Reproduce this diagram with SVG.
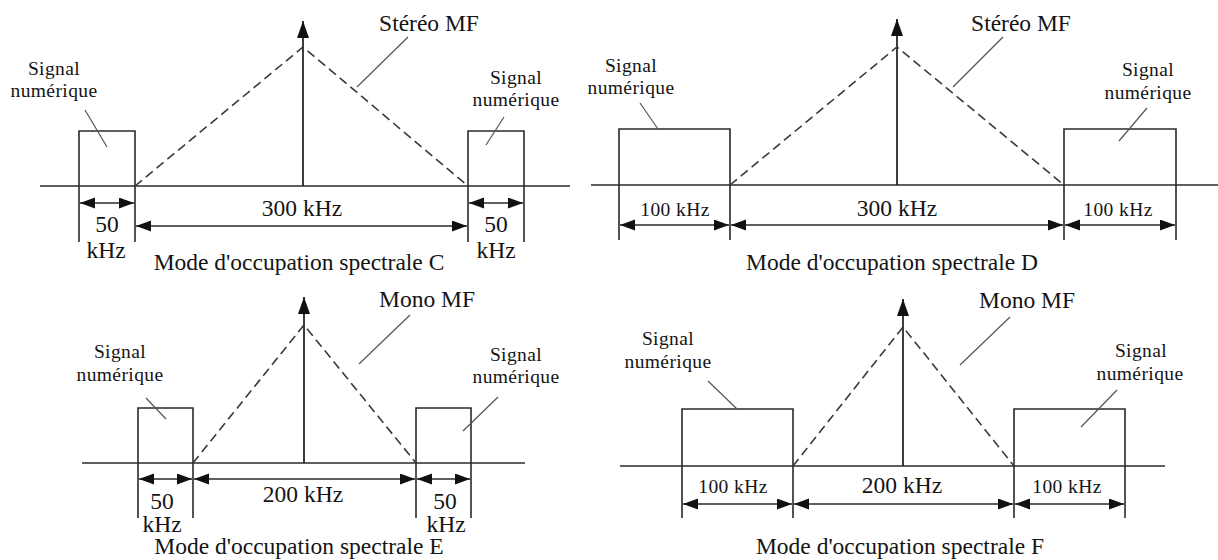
<svg xmlns="http://www.w3.org/2000/svg" width="1218" height="560" viewBox="0 0 1218 560">
<defs>
<marker id="dim" markerUnits="userSpaceOnUse" markerWidth="16" markerHeight="12" refX="15" refY="5.5" orient="auto-start-reverse"><path d="M0,0 L15,5.5 L0,11 z" fill="#111"/></marker>
<marker id="up" markerUnits="userSpaceOnUse" markerWidth="18" markerHeight="14" refX="17" refY="6" orient="auto"><path d="M0,0 L17,6 L0,12 z" fill="#111"/></marker>
</defs>
<style>
text{font-family:"Liberation Serif","Times New Roman",serif;fill:#141414;text-anchor:middle}
.big{font-size:23.5px}
.sm{font-size:19.5px;letter-spacing:0.4px}
.ax{stroke:#2a2a2a;stroke-width:1.6;fill:none}
.box{stroke:#2a2a2a;stroke-width:1.6;fill:none}
.carrier{stroke:#1a1a1a;stroke-width:1.7;marker-end:url(#up)}
.dash{stroke:#3a3a3a;stroke-width:1.6;stroke-dasharray:9 5;fill:none}
.lead{stroke:#555;stroke-width:1.2}
.dimline{stroke:#2a2a2a;stroke-width:1.5;marker-start:url(#dim);marker-end:url(#dim)}
</style>
<rect width="1218" height="560" fill="#fff"/>

<!-- Panel C -->
<g id="panelC">
<g id="C-axis"><line class="ax" x1="40" y1="186" x2="570" y2="186"/></g>
<g id="C-box-left"><path class="box" d="M79,242 V131 H135 V242"/></g>
<g id="C-box-right"><path class="box" d="M468,242 V131 H524 V242"/></g>
<g id="C-carrier"><line class="carrier" x1="303" y1="186" x2="303" y2="21"/><polyline class="dash" points="135,186 303,47 468,186"/></g>
<g id="C-label-stereo"><text class="big" x="429" y="31">Stéréo MF</text></g>
<g id="C-label-sigL"><text class="sm" x="54" y="75">Signal</text><text class="sm" x="54" y="97">numérique</text></g>
<g id="C-label-sigR"><text class="sm" x="516" y="84">Signal</text><text class="sm" x="516" y="106">numérique</text></g>
<g id="C-dims"><text class="big" x="107" y="232">50</text><text class="big" x="106" y="258">kHz</text>
<text class="big" x="302" y="216">300 kHz</text>
<text class="big" x="496" y="232">50</text><text class="big" x="496" y="258">kHz</text></g>
<g id="C-title"><text class="big" x="299" y="270">Mode d'occupation spectrale C</text></g>
</g>

<!-- Panel D -->
<g id="panelD">
<g id="D-axis"><line class="ax" x1="591" y1="185" x2="1218" y2="185"/></g>
<g id="D-box-left"><path class="box" d="M619,240 V129 H730 V240"/></g>
<g id="D-box-right"><path class="box" d="M1064,240 V129 H1176 V240"/></g>
<g id="D-carrier"><line class="carrier" x1="897" y1="185" x2="897" y2="19"/><polyline class="dash" points="730,185 897,47 1064,185"/></g>
<g id="D-label-stereo"><text class="big" x="1021" y="31">Stéréo MF</text></g>
<g id="D-label-sigL"><text class="sm" x="631" y="72">Signal</text><text class="sm" x="631" y="94">numérique</text></g>
<g id="D-label-sigR"><text class="sm" x="1148" y="76">Signal</text><text class="sm" x="1148" y="99">numérique</text></g>
<g id="D-dims"><text class="sm" x="675" y="216">100 kHz</text><text class="big" x="897" y="216">300 kHz</text><text class="sm" x="1118" y="216">100 kHz</text></g>
<g id="D-title"><text class="big" x="892" y="270">Mode d'occupation spectrale D</text></g>
</g>

<!-- Panel E -->
<g id="panelE">
<g id="E-axis"><line class="ax" x1="82" y1="463" x2="525" y2="463"/></g>
<g id="E-box-left"><path class="box" d="M138,518 V408 H193 V518"/></g>
<g id="E-box-right"><path class="box" d="M416,518 V408 H471 V518"/></g>
<g id="E-carrier"><line class="carrier" x1="304" y1="463" x2="304" y2="297"/><polyline class="dash" points="193,463 304,325 416,463"/></g>
<g id="E-label-mono"><text class="big" x="427" y="307">Mono MF</text></g>
<g id="E-label-sigL"><text class="sm" x="120" y="358">Signal</text><text class="sm" x="120" y="381">numérique</text></g>
<g id="E-label-sigR"><text class="sm" x="516" y="361">Signal</text><text class="sm" x="516" y="383">numérique</text></g>
<g id="E-dims"><text class="big" x="162" y="509">50</text><text class="big" x="162" y="532">kHz</text>
<text class="big" x="303" y="502">200 kHz</text>
<text class="big" x="445" y="509">50</text><text class="big" x="446" y="532">kHz</text></g>
<g id="E-title"><text class="big" x="299" y="554">Mode d'occupation spectrale E</text></g>
</g>

<!-- Panel F -->
<g id="panelF">
<g id="F-axis"><line class="ax" x1="620" y1="466" x2="1165" y2="466"/></g>
<g id="F-box-left"><path class="box" d="M682,518 V409 H793 V518"/></g>
<g id="F-box-right"><path class="box" d="M1014,518 V409 H1125 V518"/></g>
<g id="F-carrier"><line class="carrier" x1="903" y1="466" x2="903" y2="299"/><polyline class="dash" points="793,466 903,327 1014,466"/></g>
<g id="F-label-mono"><text class="big" x="1027" y="308">Mono MF</text></g>
<g id="F-label-sigL"><text class="sm" x="668" y="345">Signal</text><text class="sm" x="668" y="368">numérique</text></g>
<g id="F-label-sigR"><text class="sm" x="1141" y="357">Signal</text><text class="sm" x="1140" y="380">numérique</text></g>
<g id="F-dims"><text class="sm" x="733" y="493">100 kHz</text><text class="big" x="902" y="493">200 kHz</text><text class="sm" x="1067" y="493">100 kHz</text></g>
<g id="F-title"><text class="big" x="900" y="554">Mode d'occupation spectrale F</text></g>
</g>

<!-- Connectors: leader lines and dimension arrows -->
<g id="connectors">
<line class="lead" x1="85" y1="110" x2="107" y2="147"/>
<line class="lead" x1="504" y1="117" x2="486" y2="145"/>
<line class="lead" x1="408" y1="37" x2="357" y2="87"/>
<line class="lead" x1="640" y1="103" x2="658" y2="129"/>
<line class="lead" x1="1147" y1="108" x2="1119" y2="141"/>
<line class="lead" x1="1003" y1="37" x2="953" y2="87"/>
<line class="lead" x1="146" y1="398" x2="166" y2="419"/>
<line class="lead" x1="498" y1="397" x2="463" y2="431"/>
<line class="lead" x1="410" y1="315" x2="359" y2="364"/>
<line class="lead" x1="708" y1="381" x2="737" y2="409"/>
<line class="lead" x1="1117" y1="390" x2="1081" y2="427"/>
<line class="lead" x1="1010" y1="317" x2="960" y2="365"/>

<line class="dimline" x1="80" y1="203" x2="134" y2="203"/>
<line class="dimline" x1="136" y1="226" x2="467" y2="226"/>
<line class="dimline" x1="469" y1="203" x2="523" y2="203"/>

<line class="dimline" x1="620" y1="225" x2="729" y2="225"/>
<line class="dimline" x1="731" y1="225" x2="1063" y2="225"/>
<line class="dimline" x1="1065" y1="225" x2="1175" y2="225"/>

<line class="dimline" x1="139" y1="479" x2="192" y2="479"/>
<line class="dimline" x1="194" y1="479" x2="415" y2="479"/>
<line class="dimline" x1="417" y1="479" x2="470" y2="479"/>

<line class="dimline" x1="683" y1="504" x2="792" y2="504"/>
<line class="dimline" x1="794" y1="504" x2="1013" y2="504"/>
<line class="dimline" x1="1015" y1="504" x2="1124" y2="504"/>
</g>
</svg>
